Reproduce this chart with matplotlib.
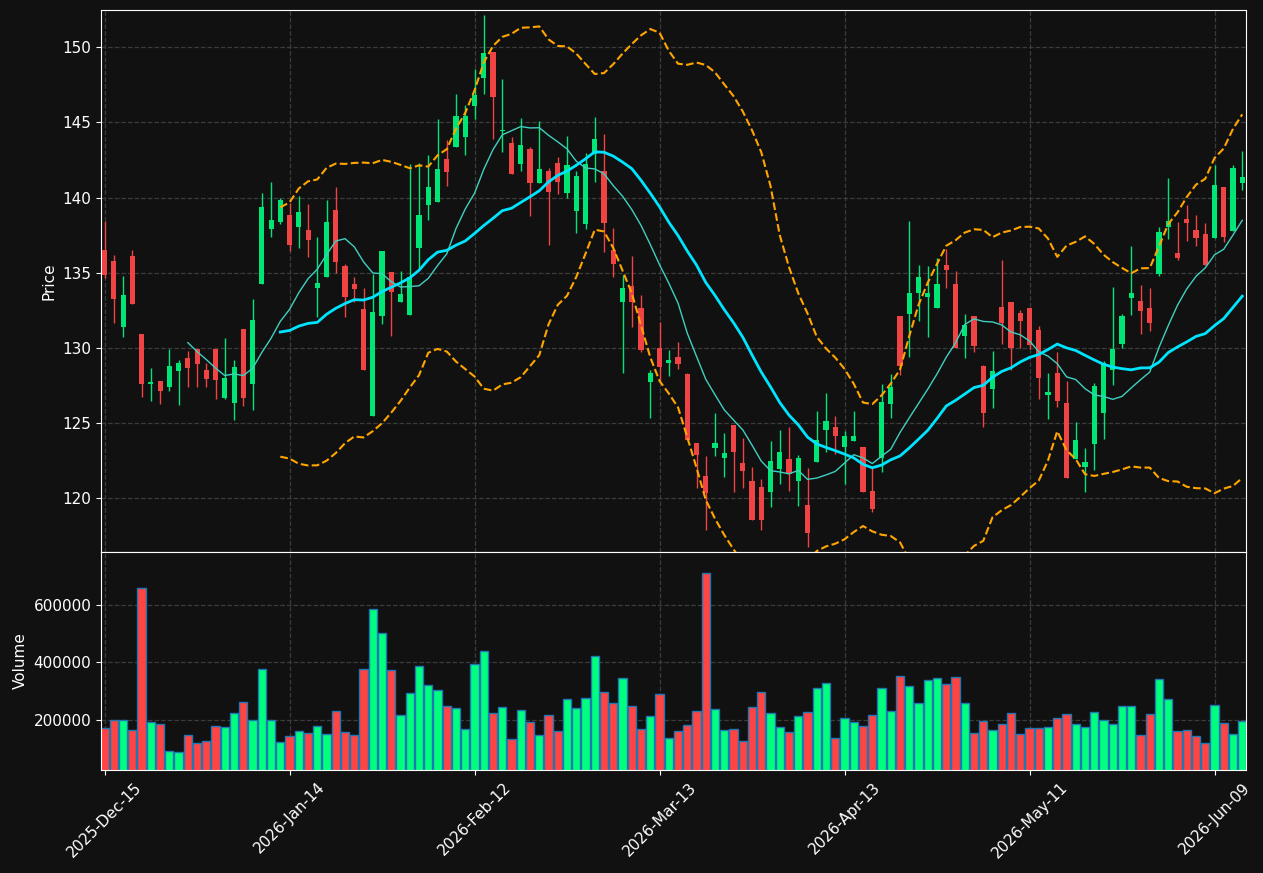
import numpy as np
import pandas as pd
import matplotlib
matplotlib.use("Agg")
import matplotlib.pyplot as plt

# Daily OHLC (NYSE trading days from 2025-12-15)
opens = [136.49, 135.80, 131.41, 136.12, 130.95, 127.64, 127.83, 127.44, 128.45, 129.35,
         129.95, 128.54, 129.95, 126.65, 126.33, 131.27, 127.64, 134.23, 137.94, 138.41,
         138.85, 138.06, 137.85, 134.02, 134.69, 139.19, 135.47, 134.27, 132.61, 125.47,
         132.10, 135.06, 133.09, 132.22, 136.67, 139.54, 139.68, 142.54, 143.39, 144.00,
         146.12, 147.97, 149.68, 144.40, 143.60, 142.26, 143.23, 140.99, 141.78, 142.31,
         140.30, 139.08, 138.22, 142.91, 141.78, 136.54, 133.03, 134.13, 132.68, 127.71,
         130.02, 128.98, 129.38, 128.24, 123.67, 121.52, 123.33, 122.70, 124.87, 122.33,
         121.13, 120.79, 120.44, 121.94, 122.63, 121.13, 119.58, 122.40, 124.53, 124.76,
         123.39, 123.79, 123.44, 120.51, 122.68, 126.26, 132.15, 132.26, 133.65, 133.37,
         132.63, 135.50, 134.27, 130.83, 132.15, 128.82, 127.25, 132.75, 133.07, 132.33,
         132.63, 131.18, 126.86, 128.36, 126.33, 122.59, 122.12, 123.60, 125.68, 128.52,
         130.30, 133.33, 133.14, 132.68, 134.94, 138.04, 136.30, 138.57, 137.85, 137.57,
         137.34, 140.72, 137.80, 140.99]
highs = [138.45, 136.19, 134.80, 136.49, 130.95, 128.68, 127.83, 129.95, 129.21, 129.79,
         129.95, 128.98, 129.95, 130.67, 129.21, 131.27, 133.26, 140.30, 141.04, 139.95,
         139.61, 140.14, 139.56, 137.39, 139.84, 140.69, 135.61, 134.69, 133.99, 134.92,
         136.42, 135.06, 135.13, 142.24, 142.31, 142.84, 145.22, 143.86, 146.86, 146.14,
         148.55, 152.12, 149.68, 147.92, 144.06, 145.27, 143.39, 145.08, 141.94, 142.68,
         144.11, 141.76, 142.96, 145.33, 144.20, 137.99, 134.87, 136.10, 133.53, 128.57,
         131.71, 129.86, 130.42, 128.36, 123.67, 122.82, 125.70, 124.36, 124.87, 124.02,
         122.06, 121.32, 123.83, 124.53, 124.76, 122.91, 122.01, 125.82, 127.02, 125.45,
         124.48, 125.80, 123.44, 122.01, 127.60, 128.29, 132.15, 138.45, 135.50, 135.45,
         135.96, 136.61, 135.10, 132.29, 132.15, 128.87, 129.79, 135.87, 133.07, 132.52,
         132.63, 131.48, 128.36, 129.72, 127.83, 125.06, 123.33, 127.67, 129.15, 134.06,
         132.29, 136.77, 134.18, 133.99, 138.04, 141.29, 138.38, 139.49, 138.85, 138.29,
         142.19, 140.72, 142.15, 143.07]
lows = [134.64, 131.64, 130.72, 132.90, 126.72, 126.51, 126.26, 127.11, 126.21, 127.44,
        127.44, 127.44, 126.61, 126.60, 125.22, 126.14, 125.87, 134.23, 137.41, 138.22,
        136.42, 136.65, 136.05, 132.06, 134.69, 134.99, 132.06, 133.03, 128.57, 125.47,
        131.59, 130.79, 133.09, 132.22, 135.33, 138.50, 139.68, 140.76, 143.39, 142.84,
        145.24, 146.88, 143.88, 143.03, 141.55, 141.76, 138.75, 140.99, 136.84, 140.23,
        139.95, 137.64, 137.92, 141.06, 136.37, 134.71, 128.36, 131.41, 129.75, 125.36,
        127.83, 128.13, 128.59, 123.90, 120.72, 117.90, 122.82, 121.43, 120.44, 120.72,
        118.55, 117.90, 119.45, 120.95, 120.49, 119.47, 116.79, 122.40, 123.09, 122.98,
        120.95, 123.79, 120.44, 119.12, 121.76, 125.33, 128.22, 129.38, 131.82, 130.72,
        132.63, 134.00, 129.98, 129.33, 129.75, 124.76, 125.98, 130.25, 128.52, 129.98,
        129.95, 126.61, 125.29, 126.10, 121.36, 122.59, 120.44, 121.87, 123.97, 127.55,
        130.02, 132.22, 130.95, 131.13, 134.76, 137.23, 135.87, 137.11, 136.77, 135.52,
        137.34, 137.07, 137.80, 140.53]
closes = [134.87, 133.23, 133.53, 132.96, 127.64, 127.76, 127.11, 128.82, 129.03, 128.64,
          128.91, 127.92, 127.85, 128.01, 128.75, 126.65, 131.87, 139.38, 138.52, 139.84,
          136.88, 139.03, 137.16, 134.34, 138.38, 135.75, 133.42, 133.95, 128.57, 132.40,
          136.42, 133.70, 133.60, 134.69, 138.87, 140.72, 141.92, 141.73, 145.43, 145.43,
          146.84, 149.61, 146.72, 144.50, 141.59, 143.49, 140.99, 141.89, 140.39, 141.06,
          142.15, 141.43, 142.22, 143.88, 138.34, 135.61, 133.99, 133.03, 129.84, 128.36,
          128.71, 129.21, 128.91, 123.90, 122.86, 120.39, 123.67, 123.03, 123.09, 121.82,
          118.55, 118.59, 122.52, 123.07, 121.59, 122.70, 117.71, 123.90, 125.17, 124.13,
          124.13, 124.13, 120.44, 119.28, 126.40, 127.41, 128.82, 133.65, 134.73, 133.65,
          134.27, 135.22, 129.98, 131.52, 130.14, 125.70, 128.48, 131.64, 130.02, 131.82,
          130.21, 127.99, 127.09, 126.51, 121.36, 123.90, 122.45, 127.48, 128.98, 129.91,
          132.15, 133.67, 132.49, 131.64, 137.71, 138.45, 135.96, 138.34, 137.34, 135.52,
          140.83, 137.41, 141.96, 141.39]
volumes = [172000, 200000, 200000, 165000, 656000, 193000, 186000, 92000, 89000, 148000,
           120000, 127000, 179000, 176000, 224000, 263000, 200000, 377000, 200000, 123000,
           144000, 162000, 156000, 179000, 151000, 231000, 158000, 149000, 377000, 583000,
           503000, 374000, 217000, 294000, 388000, 322000, 304000, 249000, 242000, 169000,
           395000, 440000, 224000, 245000, 134000, 235000, 193000, 148000, 217000, 162000,
           273000, 242000, 277000, 423000, 297000, 259000, 346000, 249000, 169000, 214000,
           290000, 137000, 162000, 183000, 231000, 711000, 238000, 165000, 169000, 127000,
           245000, 297000, 224000, 176000, 158000, 214000, 228000, 311000, 329000, 137000,
           207000, 193000, 179000, 217000, 311000, 231000, 353000, 318000, 259000, 339000,
           346000, 325000, 350000, 259000, 155000, 197000, 165000, 186000, 224000, 151000,
           172000, 172000, 176000, 207000, 221000, 186000, 176000, 228000, 200000, 186000,
           249000, 249000, 148000, 221000, 343000, 273000, 162000, 165000, 144000, 120000,
           252000, 190000, 151000, 197000]

holidays = ["2025-12-25", "2026-01-01", "2026-01-19", "2026-02-16", "2026-04-03", "2026-05-25"]
dates = pd.date_range("2025-12-15", periods=len(closes),
                      freq=pd.offsets.CustomBusinessDay(holidays=holidays))

df = pd.DataFrame({"Open": opens, "High": highs, "Low": lows, "Close": closes,
                   "Volume": volumes}, index=dates)

# indicators, computed from the closes the way the original chart does
mav10 = df["Close"].rolling(10).mean()
mav20 = df["Close"].rolling(20).mean()
std20 = df["Close"].rolling(20).std(ddof=0)
upper = mav20 + 2 * std20
lower = mav20 - 2 * std20

BG = "#111111"
UP, DOWN = "#00e676", "#f04444"
VUP, VDOWN = "#00ff7f", "#ff4444"

fig = plt.figure(figsize=(12.63, 8.73), dpi=100, facecolor=BG)
ax = fig.add_axes([0.080, 0.3677, 0.9065, 0.6208])
axv = fig.add_axes([0.080, 0.118, 0.9065, 0.2497], sharex=ax)

x = np.arange(len(df))
up = df["Close"] >= df["Open"]
ccol = np.where(up, UP, DOWN)
vcol = np.where(up, VUP, VDOWN)

ax.vlines(x, df["Low"], df["High"], colors=ccol, linewidth=1, zorder=2)
body_lo = np.minimum(df["Open"], df["Close"])
body_h = np.maximum((df["Close"] - df["Open"]).abs(), 0.08)
ax.bar(x, body_h, bottom=body_lo, width=0.55, color=ccol, linewidth=0, zorder=3)

ax.plot(x, mav10, color="#40d0c0", linewidth=1, zorder=4)
ax.plot(x, mav20, color="#00e5ff", linewidth=2, zorder=4)
ax.plot(x, upper, color="#ffa500", linewidth=1.5, linestyle="--", zorder=4)
ax.plot(x, lower, color="#ffa500", linewidth=1.5, linestyle="--", zorder=4)

axv.bar(x, df["Volume"], width=0.9, color=vcol, edgecolor="#1f77b4", linewidth=1)

lo, hi = df["Low"].min(), df["High"].max()
pad = (hi - lo) * 0.01
ax.set_ylim(lo - pad, hi + pad)
ax.set_xlim(-0.38, len(df) - 0.6)
axv.set_ylim(0.3 * df["Volume"].min(), 1.1 * df["Volume"].max())

ticks = x[::20]
axv.set_xticks(ticks)
axv.set_xticklabels([d.strftime("%Y-%b-%d") for d in df.index[ticks]], rotation=45)
ax.set_yticks(np.arange(120, 151, 5))
axv.set_yticks([200000, 400000, 600000])
axv.ticklabel_format(axis="y", style="plain")
plt.setp(ax.get_xticklabels(), visible=False)

for a in (ax, axv):
    a.set_facecolor(BG)
    for s in a.spines.values():
        s.set_color("white")
    a.tick_params(colors="white", labelsize=11)
    a.grid(True, color="#3c3c3c", linestyle="--", linewidth=0.9)
    a.set_axisbelow(True)
ax.tick_params(axis="x", length=0)

ax.set_ylabel("Price", color="white", fontsize=11)
axv.set_ylabel("Volume", color="white", fontsize=11)

fig.savefig("out.png", dpi=100, facecolor=BG)
